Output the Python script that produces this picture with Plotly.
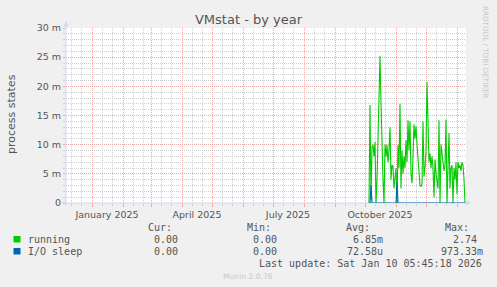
import plotly.graph_objects as go
import pandas as pd

# ---------------- data ----------------
series_start = "2025-10-05"          # first day with data
running_milli = [
    0, 16.8, 0.5, 9.6, 10, 8, 10.5, 0, 4, 10, 20, 25.2, 17, 9, 4, 0,
    10, 8, 10, 7, 9, 13, 4, 6.5, 6.3, 2.5, 4, 6, 0, 10, 6, 17, 2.5, 9,
    5, 8, 6, 10.8, 7, 14.2, 9, 14, 5, 3.4, 8, 13.5, 11, 13.2, 10, 8, 5,
    3, 2.8, 3.3, 14, 4.5, 6, 9, 20.8, 10, 7, 8.5, 6, 8, 6, 1, 7.5, 5, 4,
    2.5, 14.2, 0, 10, 8, 6, 5.5, 6.5, 14.3, 0, 9, 12, 2.5, 6, 6.5, 0, 6,
    4, 7, 1.5, 7, 6, 6.5, 5.5, 7, 6.5, 4, 0,
]
io_sleep_milli = [0.0] * len(running_milli)
io_sleep_milli[2] = 3.1
io_sleep_milli[28] = 3.65

series_names = ["running", "I/O sleep"]
series_colors = ["#00CC00", "#0066B3"]

x_range = ["2024-12-06", "2026-01-10"]
month_starts = pd.date_range("2025-01-01", "2026-01-01", freq="MS")
month_labels = {1: "January", 4: "April", 7: "July", 10: "October"}
tick_text = [f"{month_labels[d.month]} {d.year}" if (d.month in month_labels and d.year == 2025) else ""
             for d in month_starts]
minor_days = [d for m in pd.date_range("2024-12-01", "2026-01-01", freq="MS")
              for d in (m + pd.Timedelta(days=10), m + pd.Timedelta(days=20))
              if pd.Timestamp(x_range[0]) < d < pd.Timestamp(x_range[1])]

y_ticks = [0, 5, 10, 15, 20, 25, 30]
y_ticktext = ["0", "5 m", "10 m", "15 m", "20 m", "25 m", "30 m"]
y_title = "process states"

columns = ["Cur:", "Min:", "Avg:", "Max:"]
stats = {
    "running": ["0.00", "0.00", "6.85m", "2.74"],
    "I/O sleep": ["0.00", "0.00", "72.58u", "973.33m"],
}
last_update = "Last update: Sat Jan 10 05:45:18 2026"
footer = "Munin 2.0.76"
watermark = "RRDTOOL / TOBI OETIKER"

# ---------------- geometry helpers ----------------
W, H = 497, 287
L, T, PW, PH = 66, 28, 400, 175


def px(x):
    return (x - L) / PW


def py(y):
    return (T + PH - y) / PH


dates = pd.date_range(series_start, periods=len(running_milli), freq="D")

TXT = "#555555"
MGRID = "#EDA8A8"
GRID = "#D0D0D0"
AXIS = "#CFD6F8"

fig = go.Figure()
for name, vals, col in zip(series_names, [running_milli, io_sleep_milli], series_colors):
    fig.add_trace(go.Scatter(x=dates, y=vals, mode="lines", name=name,
                             line=dict(color=col, width=1.1), showlegend=False))

fig.update_layout(
    width=W, height=H,
    margin=dict(l=L, r=W - L - PW, t=T, b=H - T - PH, pad=0),
    paper_bgcolor="#F0F0F0", plot_bgcolor="#FFFFFF",
    title=dict(text="VMstat - by year", x=0.5, xref="container", xanchor="center",
               y=1 - 19 / H, yref="container", yanchor="middle",
               font=dict(family="DejaVu Sans", size=13, color=TXT)),
    xaxis=dict(type="date", range=x_range, tickmode="array", tickvals=month_starts,
               ticktext=tick_text, showgrid=True, gridcolor=MGRID, griddash="1px,1px",
               gridwidth=1, ticks="outside", ticklen=3, tickcolor=MGRID, ticklabelshift=15,
               tickfont=dict(family="DejaVu Sans", size=9.5, color=TXT),
               showline=False, zeroline=False,
               minor=dict(tickvals=minor_days, showgrid=True, gridcolor=GRID,
                          griddash="1px,1px", ticks="outside", ticklen=2, tickcolor=GRID)),
    yaxis=dict(range=[0, 30], tickmode="array", tickvals=y_ticks, ticktext=y_ticktext,
               showgrid=True, gridcolor=MGRID, griddash="1px,1px", gridwidth=1,
               ticks="outside", ticklen=2, tickcolor=MGRID,
               tickfont=dict(family="DejaVu Sans", size=9.5, color=TXT),
               showline=False, zeroline=False,
               minor=dict(dtick=1, showgrid=True, gridcolor=GRID, griddash="1px,1px",
                          ticks="outside", ticklen=2, tickcolor=GRID)),
)

shapes = []
# axes with arrows
shapes.append(dict(type="line", xref="paper", yref="paper", x0=px(66), x1=px(66),
                   y0=py(206), y1=py(25), line=dict(color=AXIS, width=1)))
shapes.append(dict(type="path", xref="paper", yref="paper",
                   path=f"M {px(66)},{py(21)} L {px(63.5)},{py(26.5)} L {px(68.5)},{py(26.5)} Z",
                   fillcolor=AXIS, line=dict(color=AXIS, width=0)))
shapes.append(dict(type="line", xref="paper", yref="paper", x0=px(62), x1=px(466),
                   y0=py(203), y1=py(203), line=dict(color=AXIS, width=1), layer="below"))
shapes.append(dict(type="path", xref="paper", yref="paper",
                   path=f"M {px(471)},{py(203)} L {px(465.5)},{py(200.5)} L {px(465.5)},{py(205.5)} Z",
                   fillcolor=AXIS, line=dict(color=AXIS, width=0)))
# legend swatches
for i, col in enumerate(series_colors):
    y0 = 236 + i * 12
    shapes.append(dict(type="rect", xref="paper", yref="paper", x0=px(13.5), x1=px(20.5),
                       y0=py(y0 + 6.5), y1=py(y0), fillcolor=col, line=dict(width=0)))

ann = []


def text(x, y, s, anchor="left", size=10, family="DejaVu Sans Mono", color=TXT, angle=0):
    ann.append(dict(x=px(x), y=py(y), xref="paper", yref="paper", text=s, showarrow=False,
                    xanchor=anchor, yanchor="middle", borderpad=0, textangle=angle,
                    font=dict(family=family, size=size, color=color)))


text(11, 114, y_title, anchor="center", size=11, family="DejaVu Sans", angle=-90)
col_right = [173, 272, 371, 470]
val_right = [184.5, 284, 384, 483.5]
for c, xr in zip(columns, col_right):
    text(xr, 227.7, c, anchor="right")
for r, name in enumerate(series_names):
    yy = 239.3 + r * 11.8
    text(26.5, yy, name)
    for v, xr in zip(stats[name], val_right):
        s = v if v[-1].isalpha() else v + "\u00a0"
        text(xr, yy, s.replace(" ", "\u00a0"), anchor="right")
text(483, 263.3, last_update.replace(" ", "\u00a0"), anchor="right")
text(248, 276.3, footer, anchor="center", size=7.6, family="DejaVu Sans", color="#C8C8C8")
text(485.5, 52.5, watermark, anchor="center", size=7.2, family="DejaVu Sans", color="#C8C8C8", angle=90)

fig.update_layout(shapes=shapes, annotations=ann)
fig.write_html("out.html")
